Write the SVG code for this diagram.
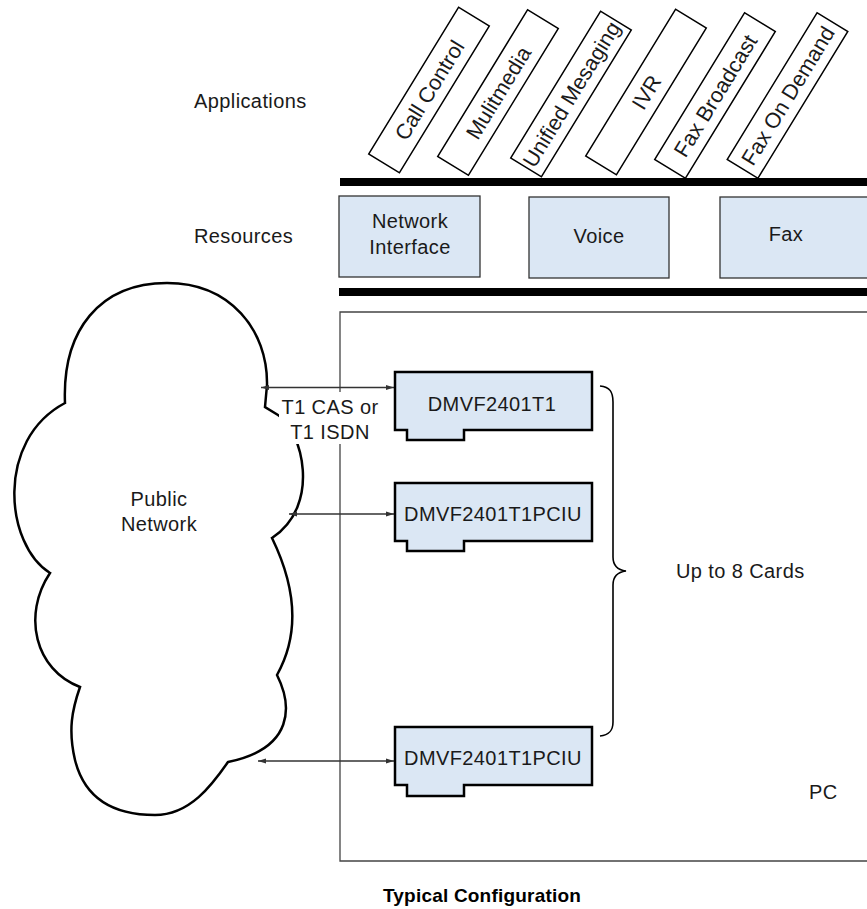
<svg xmlns="http://www.w3.org/2000/svg" width="867" height="909" viewBox="0 0 867 909">
<style>
  text { font-family: "Liberation Sans", Arial, sans-serif; font-size: 20px; fill: #1a1a1a; letter-spacing: 0.4px; }
  .mid { text-anchor: middle; }
  .title { font-weight: bold; font-size: 19px; fill: #000; letter-spacing: 0.2px; }
  .app rect { fill: #fff; stroke: #000; stroke-width: 1.5; }
  .app text { font-size: 21.5px; letter-spacing: 0; }
  .res { fill: #dbe7f4; stroke: #333; stroke-width: 1.3; }
  .card { fill: #dbe7f4; stroke: #000; stroke-width: 2.5; stroke-linejoin: miter; }
  .bar { fill: #000; }
  .conn { stroke: #333; stroke-width: 1.3; fill: none; }
  .brace { stroke: #000; stroke-width: 1.6; fill: none; }
  .cloud { fill: #fff; stroke: #000; stroke-width: 2.5; stroke-linejoin: miter; }
  .pc { fill: none; stroke: #444; stroke-width: 1.3; }
</style>
<defs>
  <marker id="ah" markerUnits="userSpaceOnUse" markerWidth="9" markerHeight="6" refX="8" refY="3" orient="auto-start-reverse">
    <path d="M0,0.5 L8,3 L0,5.5 Z" fill="#333"/>
  </marker>
</defs>

<!-- Labels -->
<text x="194" y="108">Applications</text>
<text x="194" y="243">Resources</text>

<!-- Application boxes -->
<g id="app-call-control" class="app" transform="translate(429,90) rotate(-58.5)">
  <rect x="-86" y="-18" width="172" height="36"/>
  <text class="mid" x="0" y="8">Call Control</text>
</g>
<g id="app-multimedia" class="app" transform="translate(498,92.5) rotate(-58.5)">
  <rect x="-86" y="-18" width="172" height="36"/>
  <text class="mid" x="0" y="8">Mulitmedia</text>
</g>
<g id="app-unified-messaging" class="app" transform="translate(571,94) rotate(-58.5)">
  <rect x="-86" y="-18" width="172" height="36"/>
  <text class="mid" x="0" y="8">Unified Mesaging</text>
</g>
<g id="app-ivr" class="app" transform="translate(646,92) rotate(-58.5)">
  <rect x="-86" y="-18" width="172" height="36"/>
  <text class="mid" x="0" y="8">IVR</text>
</g>
<g id="app-fax-broadcast" class="app" transform="translate(715,95.5) rotate(-58.5)">
  <rect x="-86" y="-18" width="172" height="36"/>
  <text class="mid" x="0" y="8">Fax Broadcast</text>
</g>
<g id="app-fax-on-demand" class="app" transform="translate(787.5,95.5) rotate(-58.5)">
  <rect x="-86" y="-18" width="172" height="36"/>
  <text class="mid" x="0" y="8">Fax On Demand</text>
</g>

<!-- Bars -->
<rect class="bar" x="340" y="178" width="527" height="8"/>
<rect class="bar" x="339" y="288" width="528" height="8"/>

<!-- Resources -->
<g id="res-network-interface">
  <rect class="res" x="339" y="196" width="141" height="81"/>
  <text class="mid" x="410" y="228">Network</text>
  <text class="mid" x="410" y="254">Interface</text>
</g>
<g id="res-voice">
  <rect class="res" x="529" y="197" width="140" height="81"/>
  <text class="mid" x="599" y="243">Voice</text>
</g>
<g id="res-fax">
  <rect class="res" x="720" y="197" width="160" height="81"/>
  <text class="mid" x="786" y="241">Fax</text>
</g>

<!-- Public network cloud -->
<g id="public-network">
  <path class="cloud" d="M65,403 C62,330 100,283 167,283 C230,283 268,330 267,385 L265,407 L278,415 C302,430 322,505 272,538 C290,575 305,625 277,675 C292,705 295,748 228,762 C212,785 190,815 155,815 C115,815 85,800 75,760 C68,730 72,710 80,687 C35,670 22,615 50,573 C5,545 -5,440 65,403 Z"/>
  <text class="mid" x="159" y="506">Public</text>
  <text class="mid" x="159" y="531">Network</text>
</g>

<!-- PC box -->
<g id="pc">
  <path class="pc" d="M875,312 H340 V861 H875"/>
  <text x="809" y="799">PC</text>
</g>

<!-- Connectors -->
<g id="connectors">
  <rect x="279" y="392" width="102" height="52" fill="#fff"/>
  <text class="mid" x="330" y="414">T1 CAS or</text>
  <text class="mid" x="330" y="439">T1 ISDN</text>
  <line class="conn" x1="261" y1="387.5" x2="394" y2="387.5" marker-start="url(#ah)" marker-end="url(#ah)"/>
  <line class="conn" x1="289" y1="514" x2="394" y2="514" marker-start="url(#ah)" marker-end="url(#ah)"/>
  <line class="conn" x1="258" y1="761" x2="394" y2="761" marker-start="url(#ah)" marker-end="url(#ah)"/>
  <path class="brace" d="M600,386 C610,387 613,392 613,402 V557 C613,566 618,570 626,571 C618,572 613,576 613,585 V722 C613,731 609,735 600,736"/>
  <text x="676" y="578">Up to 8 Cards</text>
</g>

<!-- Cards -->
<g id="card-dmvf2401t1">
  <path class="card" d="M395,372 H592 V430 H464 V440 H407 V430 H395 Z"/>
  <text class="mid" x="492" y="411">DMVF2401T1</text>
</g>
<g id="card-dmvf2401t1pciu-1">
  <path class="card" d="M395,483 H592 V541 H464 V551 H407 V541 H395 Z"/>
  <text class="mid" x="493" y="521">DMVF2401T1PCIU</text>
</g>
<g id="card-dmvf2401t1pciu-2">
  <path class="card" d="M395,727 H592 V785 H464 V796 H407 V785 H395 Z"/>
  <text class="mid" x="493" y="765">DMVF2401T1PCIU</text>
</g>

<text class="title mid" x="482" y="902">Typical Configuration</text>
</svg>
